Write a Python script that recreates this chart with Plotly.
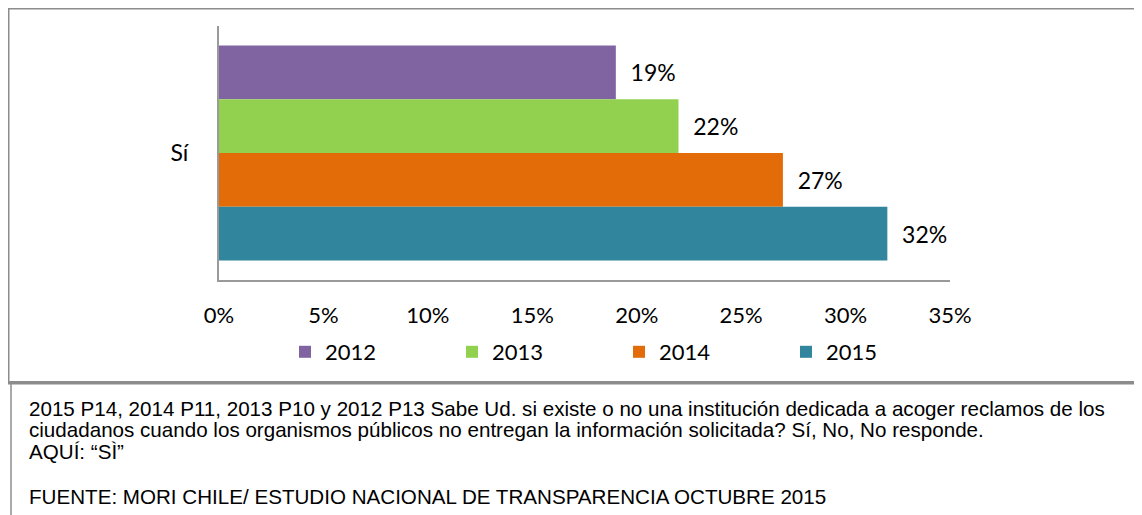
import plotly.graph_objects as go

categories = ["Sí"]
years = ["2012", "2013", "2014", "2015"]
values = {
    "2012": [0.19],
    "2013": [0.22],
    "2014": [0.27],
    "2015": [0.32],
}
colors = {"2012": "#8064A2", "2013": "#92D050", "2014": "#E36C09", "2015": "#31859C"}
tick_vals = [0, 0.05, 0.10, 0.15, 0.20, 0.25, 0.30, 0.35]
tick_text = ["0%", "5%", "10%", "15%", "20%", "25%", "30%", "35%"]

OFF = 8  # page body margin offset
W, H = 1142 - OFF, 515 - OFF
L, R, T, B = 219 - OFF, 950 - OFF, 26 - OFF, 280 - OFF


def px(x):
    x = x - OFF
    return (x - L) / (R - L)


def py(y):
    y = y - OFF
    return (B - y) / (B - T)


fig = go.Figure()
for yr in years:
    fig.add_trace(go.Bar(
        y=categories, x=values[yr], name=yr, orientation="h",
        marker=dict(color=colors[yr], line=dict(width=0)),
        text=["  " + f"{v*100:.0f}%" for v in values[yr]],
        textposition="outside", cliponaxis=False,
        textfont=dict(family="Lato", size=23, color="#000000"),
    ))

fig.update_layout(
    width=W, height=H,
    margin=dict(l=L, r=W - R, t=T, b=H - B),
    paper_bgcolor="white", plot_bgcolor="white",
    barmode="group", bargap=0.153, bargroupgap=0,
    font=dict(family="Lato", size=22, color="#000000"),
    showlegend=True,
    legend=dict(orientation="h", x=px(285), y=py(331), xanchor="left", yanchor="top",
                entrywidth=122, entrywidthmode="pixels", font=dict(family="Lato", size=22),
                itemclick=False, bgcolor="rgba(0,0,0,0)"),
    xaxis=dict(range=[0, 0.35], tickvals=tick_vals, ticktext=tick_text, showgrid=False,
               zeroline=False, showline=True, linecolor="#9A9A9A", linewidth=2,
               ticks="", ticklabelstandoff=15, tickfont=dict(family="Lato", size=22)),
    yaxis=dict(autorange="reversed", showgrid=False, zeroline=False, showline=True,
               linecolor="#9A9A9A", linewidth=2, ticks="", ticklabelstandoff=24,
               tickfont=dict(family="Lato", size=23)),
)

# outer chart frame
fig.add_shape(type="rect", xref="paper", yref="paper",
              x0=px(8.5), x1=px(1160), y0=py(382), y1=py(8.5),
              line=dict(color="#8C8C8C", width=2), fillcolor="rgba(0,0,0,0)", layer="below")
fig.add_shape(type="line", xref="paper", yref="paper",
              x0=px(8), x1=px(1160), y0=py(383), y1=py(383),
              line=dict(color="#8C8C8C", width=3))
# lower text box left border
fig.add_shape(type="line", xref="paper", yref="paper",
              x0=px(11), x1=px(11), y0=py(384), y1=py(530),
              line=dict(color="#8C8C8C", width=1.5))

notes = [
    (408, "2015 P14, 2014 P11, 2013 P10 y 2012 P13 Sabe Ud. si existe o no una institución dedicada a acoger reclamos de los"),
    (430, "ciudadanos cuando los organismos públicos no entregan la información solicitada? Sí, No, No responde."),
    (451, "AQUÍ: “SÌ”"),
    (496, "FUENTE: MORI CHILE/ ESTUDIO NACIONAL DE TRANSPARENCIA OCTUBRE 2015"),
]
for y, t in notes:
    fig.add_annotation(text=t, xref="paper", yref="paper", x=px(27), y=py(y),
                       xanchor="left", yanchor="middle", showarrow=False,
                       font=dict(family="Liberation Sans", size=20.6, color="#000000"))

fig.write_html("out.html")
